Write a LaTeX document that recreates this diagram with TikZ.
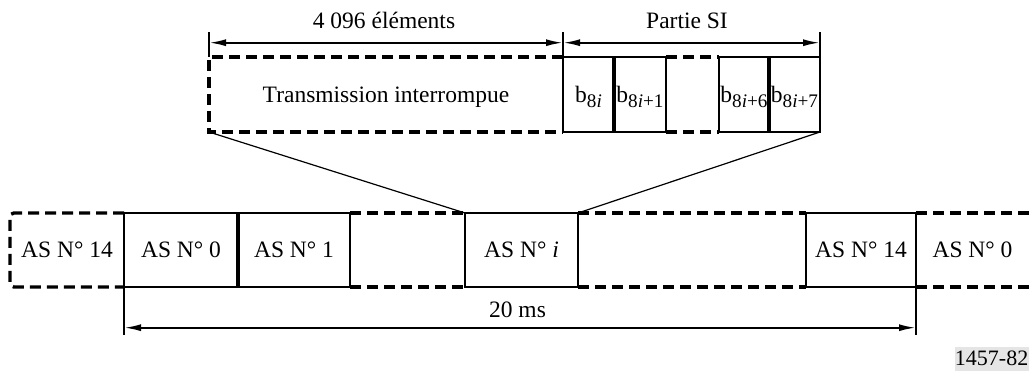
\documentclass[tikz,border=0pt]{standalone}
\usepackage{fontspec}
\setmainfont{Liberation Serif}
\usetikzlibrary{arrows.meta,fit}
\newcommand{\sbs}[1]{\raisebox{-2.6pt}{\fontsize{9.6}{9.6}\selectfont #1}}
\begin{document}
\begin{tikzpicture}[x=0.5pt,y=-0.5pt,
  font=\fontsize{11.75}{14}\selectfont,
  cell/.style={inner sep=0pt, outer sep=0pt},
  solidcell/.style={cell, draw, line width=1pt},
  lbl/.style={anchor=base, inner sep=0pt, yshift=-3.9pt},
  dsh/.style={line width=1.7pt, dash pattern=on 5.5pt off 3pt},
  thk/.style={line width=1.6pt},
  dimline/.style={line width=1pt, {Latex[length=8.5pt,width=3.5pt]}-{Latex[length=8.5pt,width=3.5pt]}},
  tickline/.style={line width=1pt},
  zoomline/.style={line width=0.6pt},
  dimlabel/.style={anchor=base, inner sep=0pt}]
\useasboundingbox (0,0) rectangle (1029,371);

% top enlarged part
\node[cell, fit={(209,57)(563,132)}] (tr) {};
\node[solidcell, fit={(563,57)(614,132)}] (b0) {};
\node[solidcell, fit={(614,57)(666,132)}] (b1) {};
\node[cell, fit={(666,57)(719,132)}] (bg) {};
\node[solidcell, fit={(719,57)(769,132)}] (b6) {};
\node[solidcell, fit={(769,57)(820,132)}] (b7) {};
\node[lbl] (trt) at (tr.center) {Transmission interrompue};
\node[lbl] (b0t) at (b0.center) {b\sbs{8\textit{i}}};
\node[lbl] (b1t) at (b1.center) {b\sbs{8\textit{i}+1}};
\node[lbl] (b6t) at (b6.center) {b\sbs{8\textit{i}+6}};
\node[lbl] (b7t) at (b7.center) {b\sbs{8\textit{i}+7}};

\draw[dsh] (tr.north east) -- (tr.north west) -- (tr.south west) -- (tr.south east);
\draw[dsh] (bg.north west) -- (bg.north east) (bg.south west) -- (bg.south east);
\draw[thk] (b0.north east) -- (b0.south east);
\draw[thk] (b6.north east) -- (b6.south east);

% bottom frame
\node[cell, fit={(10,213)(124,287)}] (p14) {};
\node[solidcell, fit={(124,213)(238,287)}] (a0) {};
\node[solidcell, fit={(238,213)(350,287)}] (a1) {};
\node[cell, fit={(350,213)(465,287)}] (g1) {};
\node[solidcell, fit={(465,213)(578,287)}] (ai) {};
\node[cell, fit={(578,213)(806,287)}] (g2) {};
\node[solidcell, fit={(806,213)(916,287)}] (a14) {};
\node[cell, fit={(916,213)(1029,287)}] (n0) {};
\node[lbl] (p14t) at (p14.center) {AS N° 14};
\node[lbl] (a0t) at (a0.center) {AS N° 0};
\node[lbl] (a1t) at (a1.center) {AS N° 1};
\node[lbl] (ait) at (ai.center) {AS N° \textit{i}};
\node[lbl] (a14t) at (a14.center) {AS N° 14};
\node[lbl] (n0t) at (n0.center) {AS N° 0};

\draw[dsh, rounded corners=2pt] (p14.north east) -- (p14.north west) -- (p14.south west) -- (p14.south east);
\draw[dsh] (g1.north west) -- (g1.north east) (g1.south west) -- (g1.south east);
\draw[dsh] (g2.north west) -- (g2.north east) (g2.south west) -- (g2.south east);
\draw[dsh] (n0.north west) -- (n0.north east) (n0.south west) -- (n0.south east);
\draw[thk] (a0.north east) -- (a0.south east);

% zoom lines
\draw[zoomline] (tr.south west) -- (ai.north west);
\draw[zoomline] (b7.south east) -- (ai.north east);

% top dimensions
\coordinate (t1) at (209,32);
\coordinate (t2) at (563,32);
\coordinate (t3) at (820,32);
\draw[tickline] (t1) -- (tr.north west);
\draw[tickline] (t2) -- (b0.north west);
\draw[tickline] (t3) -- (b7.north east);
\coordinate (d1) at (209,42.7);
\coordinate (d2) at (563,42.7);
\coordinate (d3) at (820,42.7);
\draw[dimline] (d1) -- (d2);
\draw[dimline] (d2) -- (d3);
\node[dimlabel] (l1) at (384,28) {4 096 éléments};
\node[dimlabel] (l2) at (687,28) {Partie SI};

% bottom dimension
\coordinate (u1) at (124,335);
\coordinate (u2) at (916,335);
\draw[tickline] (a0.south west) -- (u1);
\draw[tickline] (a14.south east) -- (u2);
\coordinate (e1) at (124,327.7);
\coordinate (e2) at (916,327.7);
\draw[dimline] (e1) -- (e2);
\node[dimlabel] (l3) at (517.5,317.7) {20 ms};

% figure code
\node[fill=gray!20, anchor=south east, minimum width=37pt, minimum height=12pt,
  inner sep=0pt, font=\fontsize{11}{12}\selectfont] (code) at (1029,371) {1457-82};
\end{tikzpicture}
\end{document}
